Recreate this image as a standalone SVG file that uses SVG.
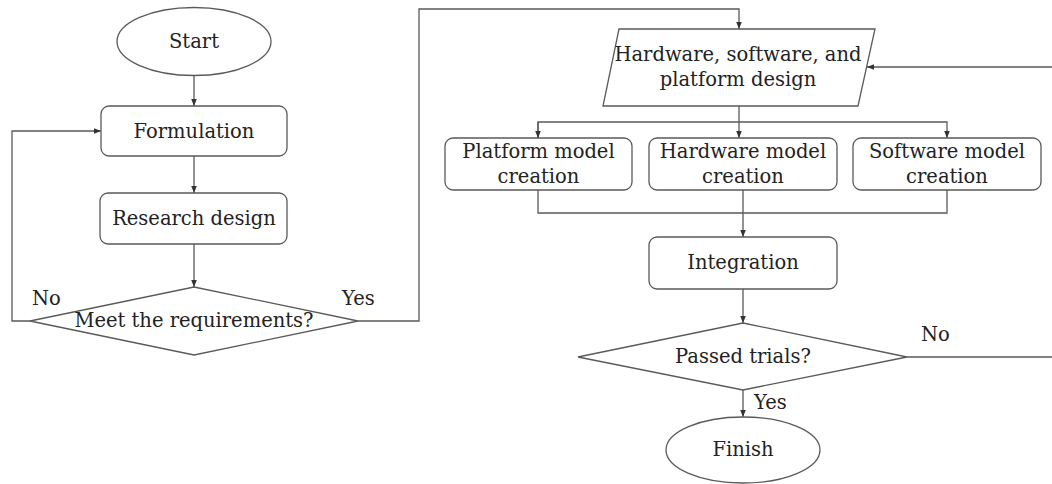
<svg xmlns="http://www.w3.org/2000/svg" width="1052" height="484" viewBox="0 0 1052 484">
<style>
.n{fill:#fff;stroke:#5a5a5a;stroke-width:1.3}
.c{fill:none;stroke:#5a5a5a;stroke-width:1.3}
text{font-family:"DejaVu Serif","Liberation Serif",serif;font-size:19.5px;fill:#222;text-anchor:middle}
.l{text-anchor:start}
</style>
<defs>
<marker id="a" viewBox="0 0 10 10" refX="10" refY="5" markerWidth="7" markerHeight="7" markerUnits="userSpaceOnUse" orient="auto">
<path d="M0,1 L10,5 L0,9 z" fill="#333"/>
</marker>
</defs>
<rect width="1052" height="484" fill="#fff"/>
<g id="connectors">
<path class="c" d="M194,76 V106" marker-end="url(#a)"/>
<path class="c" d="M194,156 V193" marker-end="url(#a)"/>
<path class="c" d="M194,244 V287" marker-end="url(#a)"/>
<path class="c" d="M30,321 H12 V131 H101" marker-end="url(#a)"/>
<path class="c" d="M358,321 H419 V9 H739 V29" marker-end="url(#a)"/>
<path class="c" d="M739,106 V138" marker-end="url(#a)"/>
<path class="c" d="M538,138 V122 H947 V138" marker-end="url(#a)"/>
<path class="c" d="M538,122 V138" marker-end="url(#a)"/>
<path class="c" d="M538,190 V213 H947 V190"/>
<path class="c" d="M743,190 V237" marker-end="url(#a)"/>
<path class="c" d="M743,289 V323" marker-end="url(#a)"/>
<path class="c" d="M743,390 V417" marker-end="url(#a)"/>
<path class="c" d="M907,357 H1056 V67 H867" marker-end="url(#a)"/>
<text class="l" x="32" y="305">No</text>
<text class="l" x="342" y="305">Yes</text>
<text class="l" x="921" y="341">No</text>
<text class="l" x="754" y="409">Yes</text>
</g>
<g id="start">
<ellipse class="n" cx="194" cy="41.5" rx="77" ry="34"/>
<text x="194" y="48">Start</text>
</g>
<g id="formulation">
<rect class="n" x="101" y="106" width="186" height="50" rx="8"/>
<text x="194" y="138">Formulation</text>
</g>
<g id="research">
<rect class="n" x="100" y="193" width="187" height="51" rx="8"/>
<text x="194" y="225">Research design</text>
</g>
<g id="meet">
<polygon class="n" points="194,287 358,321 194,355 30,321"/>
<text x="194" y="327">Meet the requirements?</text>
</g>
<g id="design">
<polygon class="n" points="619,29 875,29 858,106 603,106"/>
<text x="738" y="61">Hardware, software, and</text>
<text x="738" y="86">platform design</text>
</g>
<g id="platform">
<rect class="n" x="445" y="138" width="187" height="52" rx="8"/>
<text x="538.5" y="158">Platform model</text>
<text x="538.5" y="183">creation</text>
</g>
<g id="hardware">
<rect class="n" x="649" y="138" width="188" height="52" rx="8"/>
<text x="743" y="158">Hardware model</text>
<text x="743" y="183">creation</text>
</g>
<g id="software">
<rect class="n" x="853" y="138" width="188" height="52" rx="8"/>
<text x="947" y="158">Software model</text>
<text x="947" y="183">creation</text>
</g>
<g id="integration">
<rect class="n" x="649" y="237" width="188" height="52" rx="8"/>
<text x="743" y="269">Integration</text>
</g>
<g id="passed">
<polygon class="n" points="743,323 907,357 743,390 578,357"/>
<text x="743" y="363">Passed trials?</text>
</g>
<g id="finish">
<ellipse class="n" cx="743" cy="450" rx="77" ry="33"/>
<text x="743" y="456">Finish</text>
</g>
</svg>
